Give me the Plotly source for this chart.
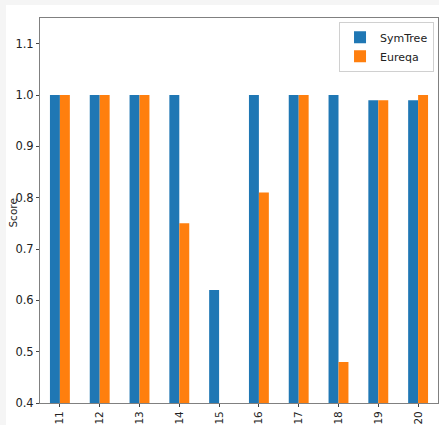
import plotly.graph_objects as go

categories = ["11", "12", "13", "14", "15", "16", "17", "18", "19", "20"]
symtree = [1.0, 1.0, 1.0, 1.0, 0.62, 1.0, 1.0, 1.0, 0.99, 0.99]
eureqa = [1.0, 1.0, 1.0, 0.75, None, 0.81, 1.0, 0.48, 0.99, 1.0]
y_ticks = [0.4, 0.5, 0.6, 0.7, 0.8, 0.9, 1.0, 1.1]

W, H = 439, 425
L, R, T, B = 40, 0, 18, 19

fig = go.Figure()
fig.add_trace(go.Bar(x=categories, y=symtree, name="SymTree",
                     marker=dict(color="#1f77b4", line=dict(width=0))))
fig.add_trace(go.Bar(x=categories, y=eureqa, name="Eureqa",
                     marker=dict(color="#ff7f0e", line=dict(width=0))))

pw = W - L - R
ph = H - T - B
# white figure area with thin gray border strip on top/left
fig.add_shape(type="rect", xref="paper", yref="paper",
              x0=(6 - L) / pw, x1=(W + 5 - L) / pw,
              y0=-(B + 5) / ph, y1=(H - 5 - B) / ph,
              fillcolor="white", line=dict(width=0), layer="below")

fig.add_annotation(text="Score", xref="paper", yref="paper",
                   x=(13 - L) / pw, y=(H - B - 215) / ph, textangle=-90,
                   showarrow=False, xanchor="center", yanchor="middle",
                   font=dict(size=10.5, color="#222"))

fig.update_layout(
    width=W, height=H,
    margin=dict(l=L, r=R, t=T, b=B),
    paper_bgcolor="#f5f5f5",
    plot_bgcolor="white",
    barmode="group", bargap=0.5, bargroupgap=0,
    font=dict(family="DejaVu Sans", size=11, color="#222"),
    showlegend=True,
    legend=dict(x=0.99, y=0.99, xanchor="right", yanchor="top",
                bgcolor="white", bordercolor="#d0d0d0", borderwidth=1,
                font=dict(size=11), tracegroupgap=0, itemwidth=30),
    xaxis=dict(range=[-0.5, 9.5], tickangle=-90, showgrid=False,
               showline=True, linecolor="#808080", linewidth=1, mirror=True,
               ticks="outside", ticklen=3, tickcolor="#444", zeroline=False,
               tickfont=dict(size=10.5)),
    yaxis=dict(range=[0.4, 1.15], tickvals=y_ticks,
               ticktext=[f"{v:.1f}" for v in y_ticks], showgrid=False,
               showline=True, linecolor="#808080", linewidth=1, mirror=True,
               ticks="outside", ticklen=3, tickcolor="#444", zeroline=False,
               tickfont=dict(size=11.5)),
)

fig.write_html("out.html", config={"displayModeBar": False},
               post_script="document.body.style.margin='0';document.body.style.padding='0';")
